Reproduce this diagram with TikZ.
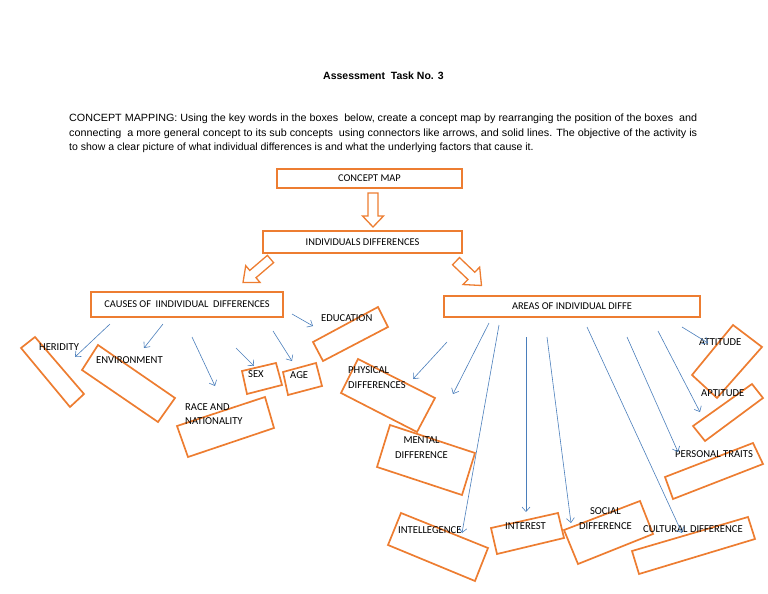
\documentclass[tikz,border=0pt]{standalone}
\usepackage{fontspec}
\setmainfont{Liberation Sans}
\newfontfamily\lblfont{Carlito}
\usetikzlibrary{arrows.meta,calc}
\definecolor{boxorange}{HTML}{ED7D31}
\definecolor{linkblue}{HTML}{4A7EBB}
% block (hollow) arrow: #1 tail, #2 tip, #3 head length, #4 shaft half width, #5 head half width
\newcommand\blkarrow[5]{%
  \coordinate (bh) at ($(#2)!#3!(#1)$);
  \draw[blk] ($(#1)!#4!90:(#2)$) -- ($(bh)!#4!90:(#2)$) -- ($(bh)!#5!90:(#2)$) -- (#2)
    -- ($(bh)!#5!-90:(#2)$) -- ($(bh)!#4!-90:(#2)$) -- ($(#1)!#4!-90:(#2)$) -- cycle;}
\begin{document}
\begin{tikzpicture}[x=1pt,y=-1pt,
  obox/.style={draw=boxorange,line width=1.7pt,line join=miter},
  rbox/.style={draw=boxorange,line width=1.6pt,inner sep=0pt,font=\lblfont\fontsize{10.4}{12}\selectfont,text=black},
  lbl/.style={font=\lblfont\fontsize{10.6}{14.5}\selectfont,inner sep=0pt,text=black},
  lnk/.style={draw=linkblue,line width=0.6pt,-{Straight Barb[length=4.5pt,width=8pt]}},
  blk/.style={draw=boxorange,line width=1.3pt,fill=white,line join=miter},
  para/.style={anchor=base west,inner sep=0pt,font=\fontsize{10.5}{12}\selectfont}]
\useasboundingbox (0,0) rectangle (768,594);

% ---- header texts
\node[anchor=base west,inner sep=0pt,font=\bfseries\fontsize{10.5}{12}\selectfont] (title) at (323,79) {Assessment\ \ Task No. 3};
\node[para] (p1) at (69,121.5) {\resizebox{628pt}{\height}{CONCEPT MAPPING: Using the key words in the boxes\ \ below, create a concept map by rearranging the position of the boxes\ \ and}};
\node[para] (p2) at (69,136) {\resizebox{628pt}{\height}{connecting\ \ a more general concept to its sub concepts\ \ using connectors like arrows, and solid lines. The objective of the activity is}};
\node[para] (p3) at (69,150.5) {to show a clear picture of what individual differences is and what the underlying factors that cause it.};

% ---- main boxes
\node[rbox,minimum width=185pt,minimum height=19pt] (cmap) at (369.5,178.5) {CONCEPT MAP};
\node[rbox,minimum width=199pt,minimum height=22pt] (indiv) at (362.5,242) {INDIVIDUALS DIFFERENCES};
\node[rbox,minimum width=192pt,minimum height=25pt] (causes) at (187,304.5) {CAUSES OF\ \ IINDIVIDUAL\ \ DIFFERENCES};
\node[rbox,minimum width=256pt,minimum height=21pt] (areas) at (572,306.5) {AREAS OF INDIVIDUAL DIFFE};

% ---- hollow block arrows
\coordinate (d1) at (373,193); \coordinate (d2) at (373,227);
\blkarrow{d1}{d2}{11pt}{5pt}{10.5pt}
\coordinate (l1) at (270.5,259); \coordinate (l2) at (243,282.5);
\blkarrow{l1}{l2}{13pt}{4.8pt}{11pt}
\coordinate (r1) at (456,261.2); \coordinate (r2) at (481.5,285.5);
\blkarrow{r1}{r2}{14pt}{5pt}{12pt}

% ---- rotated orange boxes
\draw[obox] (21,348) -- (35,337) -- (84,394) -- (70,407) -- cycle;
\draw[obox] (82,370) -- (98,345) -- (175,398) -- (158,422) -- cycle;
\draw[obox] (242,371) -- (276,363) -- (282,385) -- (247,394) -- cycle;
\draw[obox] (283,372) -- (316,363) -- (322,386) -- (288,395) -- cycle;
\draw[obox] (177,426) -- (265,397) -- (274,428) -- (188,457) -- cycle;
\draw[obox] (313,342) -- (378,307) -- (388,327) -- (323,361) -- cycle;
\draw[obox] (341,393) -- (358,359) -- (435,398) -- (417,432) -- cycle;
\draw[obox] (390,425) -- (475,453) -- (462,495) -- (377,467) -- cycle;
\draw[obox] (692,375) -- (733,325) -- (762,347) -- (717,398) -- cycle;
\draw[obox] (693,426) -- (752,384) -- (763,398) -- (705,441) -- cycle;
\draw[obox] (665,477) -- (753,443) -- (763,464) -- (673,499) -- cycle;
\draw[obox] (388,545) -- (401,513) -- (488,548) -- (475,581) -- cycle;
\draw[obox] (491,528) -- (558,513) -- (564,538) -- (497,554) -- cycle;
\draw[obox] (564,530) -- (640,501) -- (653,534) -- (578,564) -- cycle;
\draw[obox] (632,551) -- (748,517) -- (755,539) -- (639,574) -- cycle;

% ---- labels
\node[lbl,anchor=west] (heridity) at (39,347) {HERIDITY};
\node[lbl,anchor=west] (env) at (96,360) {ENVIRONMENT};
\node[lbl,anchor=west] (sex) at (248,374) {SEX};
\node[lbl,anchor=west] (age) at (290,375) {AGE};
\node[lbl,anchor=west,align=left] (race) at (185,414) {RACE AND\\NATIONALITY};
\node[lbl,anchor=west] (edu) at (321,318) {EDUCATION};
\node[lbl,anchor=west,align=left] (phys) at (348,377.5) {PHYSICAL\\DIFFERENCES};
\node[lbl,align=center] (mental) at (421.5,447.5) {MENTAL\\DIFFERENCE};
\node[lbl,anchor=west] (att) at (699,342) {ATTITUDE};
\node[lbl,anchor=west] (apt) at (701,393) {APTITUDE};
\node[lbl,anchor=west] (pers) at (675,454) {PERSONAL TRAITS};
\node[lbl,anchor=west] (intl) at (398,530) {INTELLEGENCE};
\node[lbl,anchor=west] (intr) at (505,526) {INTEREST};
\node[lbl,align=center] (social) at (605.5,518.5) {SOCIAL\\DIFFERENCE};
\node[lbl,anchor=west] (cult) at (643,529) {CULTURAL DIFFERENCE};

% ---- blue connectors
\coordinate (a1s) at (110,324); \coordinate (a1e) at (75,357);
\coordinate (a2s) at (163,324); \coordinate (a2e) at (144,348);
\coordinate (a3s) at (192,337); \coordinate (a3e) at (215,386);
\coordinate (a4s) at (236,348); \coordinate (a4e) at (254,366);
\coordinate (a5s) at (273,331); \coordinate (a5e) at (292,361);
\coordinate (a6s) at (292,314); \coordinate (a6e) at (313,326);
\coordinate (b1s) at (447,342); \coordinate (b1e) at (413,379);
\coordinate (b2s) at (489,323); \coordinate (b2e) at (453,394);
\coordinate (b3s) at (499,325); \coordinate (b3e) at (462,533);
\coordinate (b4s) at (526,337); \coordinate (b4e) at (526,512);
\coordinate (b5s) at (547,337); \coordinate (b5e) at (571,523);
\coordinate (b6s) at (587,327); \coordinate (b6e) at (682,533);
\coordinate (b7s) at (627,337); \coordinate (b7e) at (678,452);
\coordinate (b8s) at (658,331); \coordinate (b8e) at (700,412);
\coordinate (b9s) at (682,327); \coordinate (b9e) at (708,343);
\foreach \n in {a1,a2,a3,a4,a5,a6,b1,b2,b3,b4,b5,b6,b7,b8,b9}
  \draw[lnk] (\n s) -- (\n e);
\end{tikzpicture}
\end{document}
